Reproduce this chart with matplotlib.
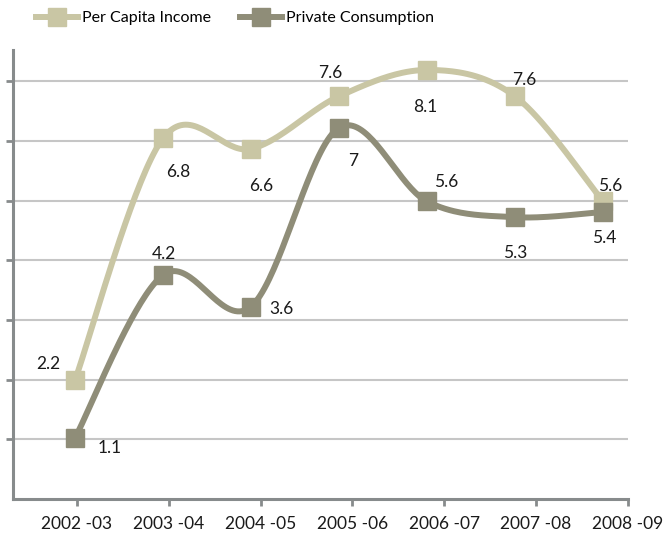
import numpy as np
import matplotlib.pyplot as plt

years = ['2002 -03', '2003 -04', '2004 -05', '2005 -06', '2006 -07', '2007 -08', '2008 -09']
per_capita_income = [2.2, 6.8, 6.6, 7.6, 8.1, 7.6, 5.6]
private_consumption = [1.1, 4.2, 3.6, 7.0, 5.6, 5.3, 5.4]

# label offsets in points (dx, dy) for each data label
pci_offsets = [(-19, 12), (11, -24), (7, -27), (-6, 17), (-1, -27), (7, 12), (5, 11)]
pc_offsets = [(25, -7), (1, 15), (22, -2), (10, -24), (14, 14), (0, -26), (1, -19)]

PCI_COLOR = '#c9c6a4'
PC_COLOR = '#8f8d78'


def smooth(xs, ys, n=40):
    # Bezier smoothing through every point, like spreadsheet "smoothed line"
    p = np.column_stack([xs, ys]).astype(float)
    ext = np.vstack([p[0], p, p[-1]])
    out = []
    t = np.linspace(0, 1, n)[:, None]
    for i in range(len(p) - 1):
        p0, p1 = ext[i + 1], ext[i + 2]
        c1 = p0 + (ext[i + 2] - ext[i]) / 6
        c2 = p1 - (ext[i + 3] - ext[i + 1]) / 6
        seg = ((1 - t) ** 3) * p0 + 3 * ((1 - t) ** 2) * t * c1 + 3 * (1 - t) * t ** 2 * c2 + t ** 3 * p1
        out.append(seg)
    out = np.vstack(out)
    return out[:, 0], out[:, 1]


plt.rcParams['font.family'] = ['Lato', 'DejaVu Sans']

fig = plt.figure(figsize=(6.63, 5.51), dpi=100)
ax = fig.add_axes([13 / 663, 52 / 551, 615 / 663, 449 / 551])

x = np.arange(len(years))
for vals, color in [(per_capita_income, PCI_COLOR), (private_consumption, PC_COLOR)]:
    sx, sy = smooth(x, vals)
    ax.plot(sx, sy, color=color, lw=4.3, solid_capstyle='round', zorder=3)
    ax.plot(x, vals, ls='none', marker='s', ms=12.5, color=color, zorder=4)

for vals, offs in [(per_capita_income, pci_offsets), (private_consumption, pc_offsets)]:
    for xi, v, (dx, dy) in zip(x, vals, offs):
        ax.annotate(f'{v:g}', (xi, v), xytext=(dx, dy), textcoords='offset points',
                    ha='center', va='center', fontsize=12.5, color='#1a1a1a', zorder=5)

ax.set_xlim(-0.7045, 6.284)
ax.set_ylim(-0.06, 8.48)

grid = -0.06 + np.arange(1, 8) * 1.135
ax.set_yticks(grid)
ax.set_yticklabels([])
ax.yaxis.grid(True, color='#c6c6c6', lw=1.5)
ax.set_axisbelow(True)

ax.set_xticks(0.0227 + np.arange(len(years)) * 1.0432)
ax.set_xticklabels(years, fontsize=12.5, color='#1a1a1a')

for side in ['top', 'right']:
    ax.spines[side].set_visible(False)
for side in ['left', 'bottom']:
    ax.spines[side].set_color('#878b8c')
    ax.spines[side].set_linewidth(2.2)
ax.tick_params(axis='both', direction='out', length=5, width=2, color='#878b8c')
ax.tick_params(axis='x', pad=7)

# legend built from plain handles
h1, = ax.plot([], [], color=PCI_COLOR, lw=4.3, marker='s', ms=12.5)
h2, = ax.plot([], [], color=PC_COLOR, lw=4.3, marker='s', ms=12.5)
fig.legend([h1, h2], ['Per Capita Income', 'Private Consumption'], loc='center left',
           bbox_to_anchor=(36 / 663, 1 - 18 / 551), ncol=2, frameon=False, fontsize=11.5,
           handlelength=2.6, handletextpad=0.3, columnspacing=1.8, borderaxespad=0,
           borderpad=0)

fig.savefig('out.png', dpi=100)
